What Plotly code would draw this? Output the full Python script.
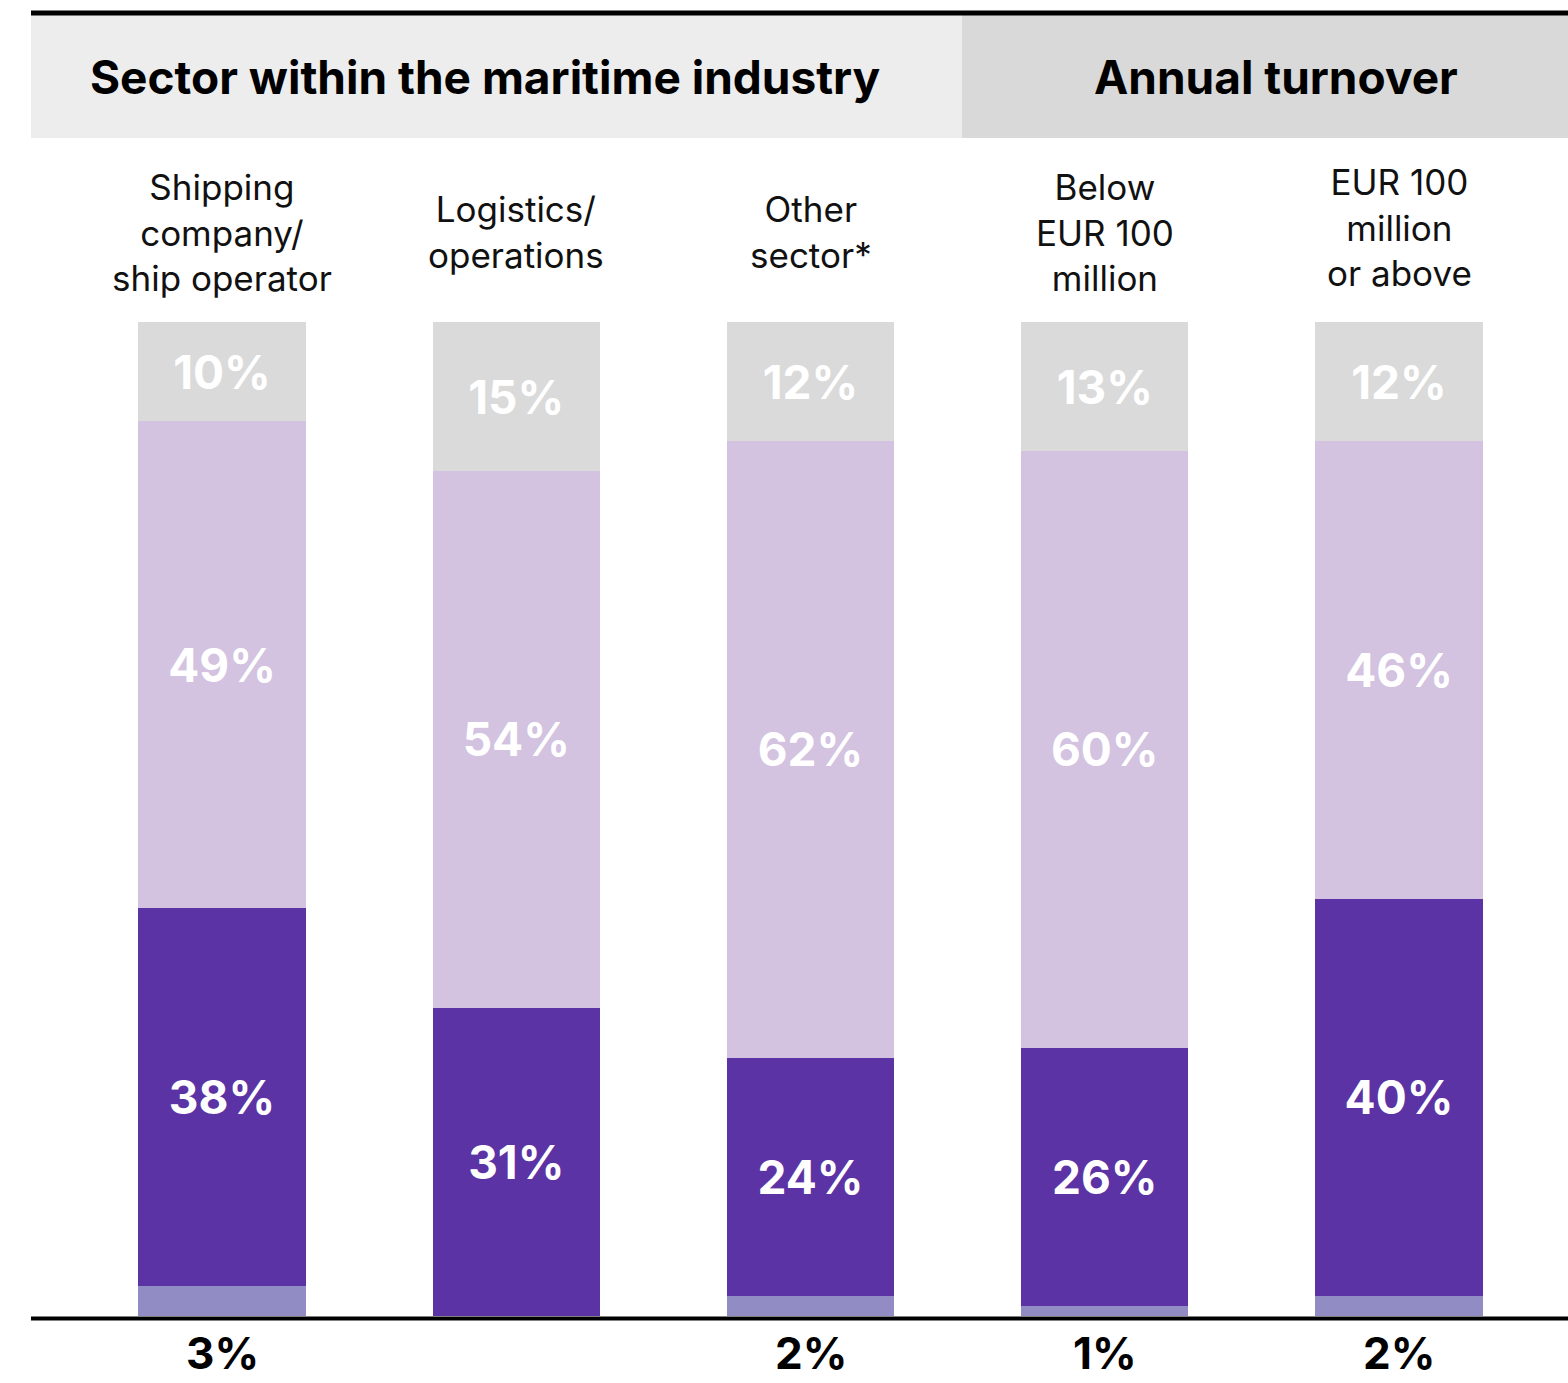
import plotly.graph_objects as go

# Survey breakdown by sector and by annual turnover (shares in %)
groups = [
    "Shipping<br>company/<br>ship operator",
    "Logistics/<br>operations",
    "Other<br>sector*",
    "Below<br>EUR 100<br>million",
    "EUR 100<br>million<br>or above",
]
share_small = [3, 0, 2, 1, 2]        # smallest answer group (bottom)
share_dark = [38, 31, 24, 26, 40]
share_light = [49, 54, 62, 60, 46]
share_grey = [10, 15, 12, 13, 12]     # top segment

section_titles = ["Sector within the maritime industry", "Annual turnover"]

W, H = 1568, 1383
FONT = "Inter"

x = list(range(len(groups)))

# pixel geometry of the canvas (plot area covers the whole figure)
x0_px, step_px = 222.0, 294.25
base_px, top_px = 1316.0, 322.0
per_unit = (base_px - top_px) / 100.0
x_range = [-x0_px / step_px, (W - x0_px) / step_px]
y_range = [-(H - base_px) / per_unit, base_px / per_unit]


def px_x(p):
    return p / W


def px_y(p):
    return 1 - p / H


fig = go.Figure()

segments = [
    (share_small, "#928cc4", False),
    (share_dark, "#5b33a4", True),
    (share_light, "#d3c3e0", True),
    (share_grey, "#dadada", True),
]
for vals, color, labelled in segments:
    fig.add_trace(go.Bar(
        x=x, y=vals, width=0.568,
        marker=dict(color=color, line=dict(width=0)),
        text=[f"{v}%" for v in vals] if labelled else None,
        textposition="inside" if labelled else "none",
        insidetextanchor="middle",
        textfont=dict(family=FONT, size=46, color="white", weight=700),
        constraintext="none",
        hoverinfo="skip",
        showlegend=False,
    ))

shapes = [
    # section header bands
    dict(type="rect", xref="paper", yref="paper",
         x0=px_x(31), x1=px_x(962), y0=px_y(138), y1=px_y(15),
         fillcolor="#ededed", line=dict(width=0), layer="below"),
    dict(type="rect", xref="paper", yref="paper",
         x0=px_x(962), x1=1, y0=px_y(138), y1=px_y(15),
         fillcolor="#d9d9d9", line=dict(width=0), layer="below"),
    # top rule
    dict(type="line", xref="paper", yref="paper",
         x0=px_x(31), x1=1, y0=px_y(13), y1=px_y(13),
         line=dict(color="black", width=5)),
    # baseline
    dict(type="line", xref="paper", yref="paper",
         x0=px_x(31), x1=1, y0=px_y(1318.5), y1=px_y(1318.5),
         line=dict(color="black", width=4)),
]

annotations = [
    dict(text=section_titles[0], x=px_x(485), y=px_y(77), xref="paper", yref="paper",
         showarrow=False, xanchor="center", yanchor="middle",
         font=dict(family=FONT, size=46, color="black", weight=700)),
    dict(text=section_titles[1], x=px_x(1276), y=px_y(77), xref="paper", yref="paper",
         showarrow=False, xanchor="center", yanchor="middle",
         font=dict(family=FONT, size=46, color="black", weight=700)),
]

# category labels above the bars
label_mid_px = [232, 232, 232, 232, 228]
for xi, g, ym in zip(x, groups, label_mid_px):
    annotations.append(dict(
        text=g, x=xi, xref="x", y=px_y(ym), yref="paper",
        showarrow=False, xanchor="center", yanchor="middle", align="center",
        font=dict(family=FONT, size=35, color="#111111"),
    ))

# the thin bottom segments are labelled under the baseline
for xi, v in zip(x, share_small):
    if v <= 0:
        continue
    annotations.append(dict(
        text=f"{v}%", x=xi, xref="x", y=0, yref="paper",
        showarrow=False, xanchor="center", yanchor="bottom", yshift=1,
        font=dict(family=FONT, size=44, color="black", weight=700),
    ))

fig.update_layout(
    width=W, height=H,
    margin=dict(l=0, r=0, t=0, b=0),
    barmode="stack",
    plot_bgcolor="white", paper_bgcolor="white",
    xaxis=dict(range=x_range, visible=False, fixedrange=True),
    yaxis=dict(range=y_range, visible=False, fixedrange=True),
    shapes=shapes,
    annotations=annotations,
    uniformtext=dict(mode=False),
)

fig.write_html("out.html")
